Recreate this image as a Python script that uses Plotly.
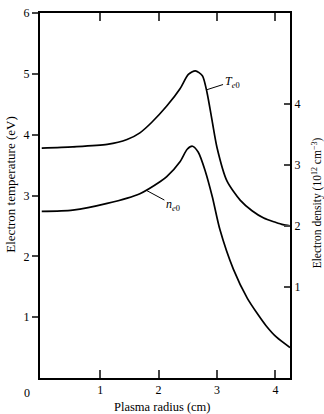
import plotly.graph_objects as go

# Electron temperature Te0 (eV) vs plasma radius (cm) - left axis
te_r = [0.0, 0.53, 1.12, 1.46, 1.68, 1.88, 2.14, 2.37, 2.51, 2.63, 2.75, 2.83, 2.92, 3.00, 3.17, 3.40, 3.60, 3.80, 4.00, 4.13, 4.25]
te_val = [3.78, 3.80, 3.84, 3.92, 4.03, 4.20, 4.47, 4.76, 4.99, 5.05, 4.97, 4.69, 4.21, 3.79, 3.24, 2.92, 2.75, 2.63, 2.56, 2.52, 2.50]

# Electron density ne0 (1e12 cm^-3) vs plasma radius (cm) - right axis
ne_r = [0.0, 0.53, 1.12, 1.68, 2.03, 2.14, 2.37, 2.49, 2.58, 2.68, 2.80, 2.92, 3.05, 3.28, 3.52, 3.69, 3.84, 4.02, 4.25]
ne_val = [2.24, 2.26, 2.37, 2.53, 2.73, 2.81, 3.06, 3.26, 3.31, 3.21, 2.90, 2.48, 1.94, 1.29, 0.81, 0.56, 0.36, 0.17, 0.00]

x_ticks = [1, 2, 3, 4]
y_left_ticks = [1, 2, 3, 4, 5, 6]
y_right_ticks = [1, 2, 3, 4]

x_title = "Plasma radius (cm)"
y_left_title = "Electron temperature (eV)"
y_right_title = "Electron density (10<sup>12</sup> cm<sup>−3</sup>)"

FONT = "Liberation Serif"

fig = go.Figure()
fig.add_trace(go.Scatter(x=te_r, y=te_val, mode="lines",
                         line=dict(color="black", width=1.7, shape="spline", smoothing=0.7),
                         showlegend=False, hoverinfo="skip"))
fig.add_trace(go.Scatter(x=ne_r, y=ne_val, mode="lines", yaxis="y2",
                         line=dict(color="black", width=1.7, shape="spline", smoothing=0.7),
                         showlegend=False, hoverinfo="skip"))

fig.update_layout(
    width=324, height=414,
    margin=dict(l=40, r=34, t=6, b=36),
    paper_bgcolor="white", plot_bgcolor="white",
    font=dict(family=FONT, size=12, color="black"),
    xaxis=dict(range=[-0.03, 4.25], tickvals=x_ticks, ticks="inside", ticklen=8, tickwidth=2,
               showline=True, linewidth=2, linecolor="black", mirror="ticks",
               showgrid=False, zeroline=False, tickfont=dict(size=12)),
    yaxis=dict(range=[0, 6], tickvals=y_left_ticks, ticks="outside", ticklen=6, tickwidth=2,
               showline=True, linewidth=2, linecolor="black",
               showgrid=False, zeroline=False, tickfont=dict(size=12)),
    yaxis2=dict(range=[-0.5, 5.5], tickvals=y_right_ticks, ticks="inside", ticklen=6, tickwidth=2,
                overlaying="y", side="right",
                showline=True, linewidth=2, linecolor="black",
                showgrid=False, zeroline=False, tickfont=dict(size=12)),
)

# axis titles as positioned text
fig.add_annotation(text=x_title, xref="paper", yref="paper", x=(162 - 40) / 250, y=0,
                   xanchor="center", yanchor="middle", yshift=-29, showarrow=False,
                   font=dict(size=12.5))
fig.add_annotation(text=y_left_title, xref="paper", yref="paper", x=0, y=(378 - 181) / 372,
                   xanchor="center", yanchor="middle", xshift=-29, textangle=-90, showarrow=False,
                   font=dict(size=13))
fig.add_annotation(text=y_right_title, xref="paper", yref="paper", x=1, y=(378 - 200) / 372,
                   xanchor="center", yanchor="middle", xshift=27, textangle=-90, showarrow=False,
                   font=dict(size=11.5))

# origin label
fig.add_annotation(text="0", xref="paper", yref="paper", x=0, y=0, xanchor="right", yanchor="top",
                   xshift=-8, yshift=-6, showarrow=False, font=dict(size=12))

# curve labels
fig.add_annotation(text="<i>T</i><sub><i>e</i>0</sub>", x=2.83, y=4.74, xref="x", yref="y",
                   showarrow=True, arrowhead=0, arrowwidth=1, arrowcolor="black",
                   ax=25, ay=-8, font=dict(size=12))
fig.add_annotation(text="<i>n</i><sub><i>e</i>0</sub>", x=1.80, y=2.58, xref="x", yref="y2",
                   showarrow=True, arrowhead=0, arrowwidth=1, arrowcolor="black",
                   ax=26, ay=14, font=dict(size=12))

fig.write_html("out.html")
